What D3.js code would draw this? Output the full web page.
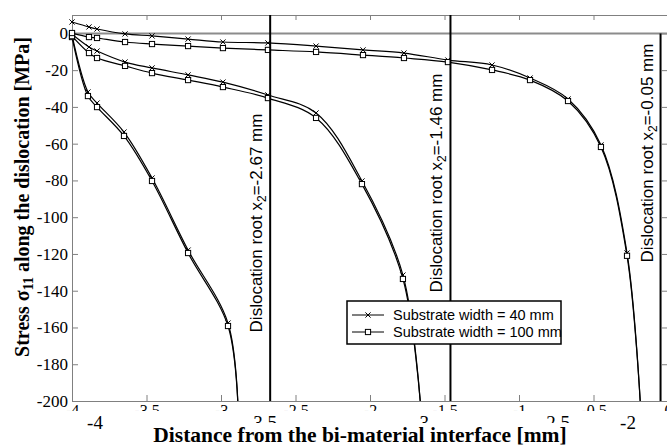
<!DOCTYPE html>
<html>
<head>
<meta charset="utf-8">
<script src="https://cdn.jsdelivr.net/npm/d3@7/dist/d3.min.js"></script>
<style>
  html, body { margin: 0; padding: 0; background: #fff; }
  svg { display: block; }
</style>
</head>
<body>
<svg id="chart" width="667" height="446"></svg>
<script>
// Stress sigma_11 [MPa] against distance from the bi-material interface [mm],
// one pair of curves (40 mm and 100 mm substrate) per dislocation root.
const xRootA     = [-4, -3.893, -3.832, -3.651, -3.463, -3.221, -2.953, -2.885];
const stressA40  = [-1.0, -31.9, -37.9, -53.7, -78.7, -117.9, -157.6, -205];
const stressA100 = [-2.0, -34.1, -40.1, -55.8, -80.3, -119.5, -159.2, -205];

const xRootB     = [-4, -3.886, -3.832, -3.644, -3.463, -3.221, -2.987, -2.685, -2.362, -2.054, -1.779, -1.658];
const stressB40  = [-0.5, -7.4, -9.6, -15.6, -18.8, -22.6, -26.5, -33.5, -43.3, -80.3, -131.5, -205];
const stressB100 = [-1.5, -10.7, -13.4, -17.7, -21.6, -25.4, -29.2, -35.2, -46.0, -82.0, -133.6, -205];

const xRootC     = [-4, -3.886, -3.832, -3.644, -3.463, -3.221, -2.987, -2.685, -2.362, -2.047, -1.772, -1.477, -1.181, -0.926, -0.671, -0.450, -0.275, -0.183];
const stressC40  = [6.2, 3.5, 2.4, -0.3, -1.4, -3.1, -4.7, -5.2, -6.9, -9.0, -10.7, -14.5, -17.2, -24.3, -35.7, -60.7, -119.5, -205];
const stressC100 = [0.2, -2.0, -2.5, -4.7, -5.8, -6.9, -8.0, -9.0, -10.1, -11.8, -13.4, -15.6, -19.9, -25.4, -36.8, -61.8, -121.0, -205];

const xTickValues     = [-4, -3.5, -3, -2.5, -2, -1.5, -1, -0.5, 0];
const yTickValues     = [0, -20, -40, -60, -80, -100, -120, -140, -160, -180, -200];
const insetTickValues = [-4, -3.5, -3, -2.5, -2];
const rootValues      = [-2.67, -1.46, -0.05];
const rootLineTop     = [10, 10, 0];
const seriesNames     = ["Substrate width = 40 mm", "Substrate width = 100 mm"];
const seriesMarkers   = ["cross", "square"];

const series = [
  { xs: xRootA, ys: stressA40,  marker: 0 },
  { xs: xRootA, ys: stressA100, marker: 1 },
  { xs: xRootB, ys: stressB40,  marker: 0 },
  { xs: xRootB, ys: stressB100, marker: 1 },
  { xs: xRootC, ys: stressC40,  marker: 0 },
  { xs: xRootC, ys: stressC100, marker: 1 }
];

// layout
const plot = { left: 72, right: 668, top: 15, bottom: 401 };
const rootLabelCenterY = [223, 183, 153];
const serif = "'Liberation Serif', 'Times New Roman', serif";
const sans  = "'Liberation Sans', Arial, Helvetica, sans-serif";
const frameGrey = "#808080";

const svg = d3.select("#chart");
const x = d3.scaleLinear().domain([-4, 0]).range([plot.left, plot.right]);
const y = d3.scaleLinear().domain([-200, 10]).range([plot.bottom, plot.top]);
const xInset = d3.scaleLinear().domain(insetTickValues).range([95, 262, 421, 555, 628]);

const defs = svg.append("defs");
defs.append("clipPath").attr("id", "plotClip").append("rect")
  .attr("x", plot.left).attr("y", plot.top)
  .attr("width", plot.right - plot.left).attr("height", plot.bottom - plot.top);
defs.append("clipPath").attr("id", "tickClip").append("rect")
  .attr("x", 0).attr("y", 380).attr("width", 700).attr("height", 31);
defs.append("clipPath").attr("id", "insetClip").append("rect")
  .attr("x", 0).attr("y", 380).attr("width", 700).attr("height", 43);

const fmt = d => String(d);

// frame axes with inward ticks
const left = svg.append("g").attr("transform", `translate(${plot.left},0)`)
  .call(d3.axisLeft(y).tickValues(yTickValues).tickFormat(fmt)
    .tickSizeInner(-6).tickSizeOuter(0).tickPadding(4));
left.selectAll("text").attr("font-family", serif).attr("font-size", 17).attr("fill", "#000");

svg.append("g").attr("transform", `translate(${plot.right},0)`)
  .call(d3.axisRight(y).tickValues(yTickValues).tickFormat("")
    .tickSizeInner(-6).tickSizeOuter(0));

svg.append("g").attr("transform", `translate(0,${plot.top})`)
  .call(d3.axisTop(x).tickValues(xTickValues).tickFormat("")
    .tickSizeInner(-5).tickSizeOuter(0));

const bottom = svg.append("g").attr("clip-path", "url(#tickClip)")
  .append("g").attr("transform", `translate(0,${plot.bottom})`)
  .call(d3.axisBottom(x).tickValues(xTickValues).tickFormat(fmt)
    .tickSizeInner(-6).tickSizeOuter(0).tickPadding(4));
bottom.selectAll("text").attr("font-family", serif).attr("font-size", 16).attr("fill", "#000");

svg.selectAll(".domain, .tick line").attr("stroke", frameGrey);

// zero line
svg.append("line")
  .attr("x1", plot.left).attr("x2", plot.right)
  .attr("y1", y(0)).attr("y2", y(0))
  .attr("stroke", "#8c8c8c").attr("stroke-width", 2);

// stress curves
const line = d3.line()
  .x(d => x(d[0])).y(d => y(d[1]))
  .curve(d3.curveCatmullRom.alpha(0.5));

const curves = svg.append("g").attr("clip-path", "url(#plotClip)");
series.forEach(s => {
  const pts = s.xs.map((v, i) => [v, s.ys[i]]);
  curves.append("path").datum(pts)
    .attr("d", line).attr("fill", "none")
    .attr("stroke", "#000").attr("stroke-width", 1.2);
});

function drawMarker(g, kind, cx, cy) {
  const r = 2.6;
  if (kind === "cross") {
    g.append("path")
      .attr("d", `M${cx - r},${cy - r}L${cx + r},${cy + r}M${cx - r},${cy + r}L${cx + r},${cy - r}`)
      .attr("stroke", "#000").attr("stroke-width", 1).attr("fill", "none");
  } else {
    g.append("rect")
      .attr("x", cx - r).attr("y", cy - r).attr("width", 2 * r).attr("height", 2 * r)
      .attr("fill", "#fff").attr("stroke", "#000").attr("stroke-width", 1);
  }
}

const markers = svg.append("g");
series.forEach(s => {
  s.xs.forEach((v, i) => {
    if (s.ys[i] < -200) return;
    drawMarker(markers, seriesMarkers[s.marker], x(v), y(s.ys[i]));
  });
});

// dislocation roots
rootValues.forEach((r, i) => {
  svg.append("line")
    .attr("x1", x(r)).attr("x2", x(r))
    .attr("y1", y(rootLineTop[i])).attr("y2", plot.bottom)
    .attr("stroke", "#000").attr("stroke-width", 2);
  const t = svg.append("text")
    .attr("transform", `translate(${x(r) - 8},${rootLabelCenterY[i]}) rotate(-90)`)
    .attr("text-anchor", "middle")
    .attr("font-family", sans).attr("font-size", 17).attr("fill", "#000");
  t.append("tspan").text("Dislocation root x");
  t.append("tspan").attr("font-size", 12).attr("dy", 4).text("2");
  t.append("tspan").attr("dy", -4).text("=" + r + " mm");
});

// legend
const lg = svg.append("g").attr("transform", "translate(347,301)");
lg.append("rect").attr("width", 214).attr("height", 43)
  .attr("fill", "#fff").attr("stroke", "#000").attr("stroke-width", 1.5);
seriesNames.forEach((name, i) => {
  const ry = 14 + i * 17;
  lg.append("line").attr("x1", 5).attr("x2", 37).attr("y1", ry).attr("y2", ry)
    .attr("stroke", "#000").attr("stroke-width", 1);
  drawMarker(lg, seriesMarkers[i], 21, ry);
  lg.append("text").attr("x", 46).attr("y", ry + 5)
    .attr("font-family", sans).attr("font-size", 14.5).attr("fill", "#000")
    .text(name);
});

// lower row of distance labels; the inner ones sit partly under the title
insetTickValues.forEach((v, i) => {
  const inner = i > 0 && i < insetTickValues.length - 1;
  svg.append("text").attr("x", xInset(v)).attr("y", 429)
    .attr("text-anchor", "middle")
    .attr("clip-path", inner ? "url(#insetClip)" : null)
    .attr("font-family", serif).attr("font-size", 19).attr("fill", "#000")
    .text(fmt(v));
});

// axis titles
svg.append("text")
  .attr("x", 360).attr("y", 442).attr("text-anchor", "middle")
  .attr("font-family", serif).attr("font-weight", "bold").attr("font-size", 21.5)
  .attr("fill", "#000")
  .text("Distance from the bi-material interface [mm]");

const yt = svg.append("text")
  .attr("transform", "translate(29,197) rotate(-90)")
  .attr("text-anchor", "middle")
  .attr("font-family", serif).attr("font-weight", "bold").attr("font-size", 20)
  .attr("fill", "#000");
yt.append("tspan").text("Stress σ");
yt.append("tspan").attr("font-size", 14).attr("dy", 4).text("11");
yt.append("tspan").attr("dy", -4).text(" along the dislocation [MPa]");
</script>
</body>
</html>
